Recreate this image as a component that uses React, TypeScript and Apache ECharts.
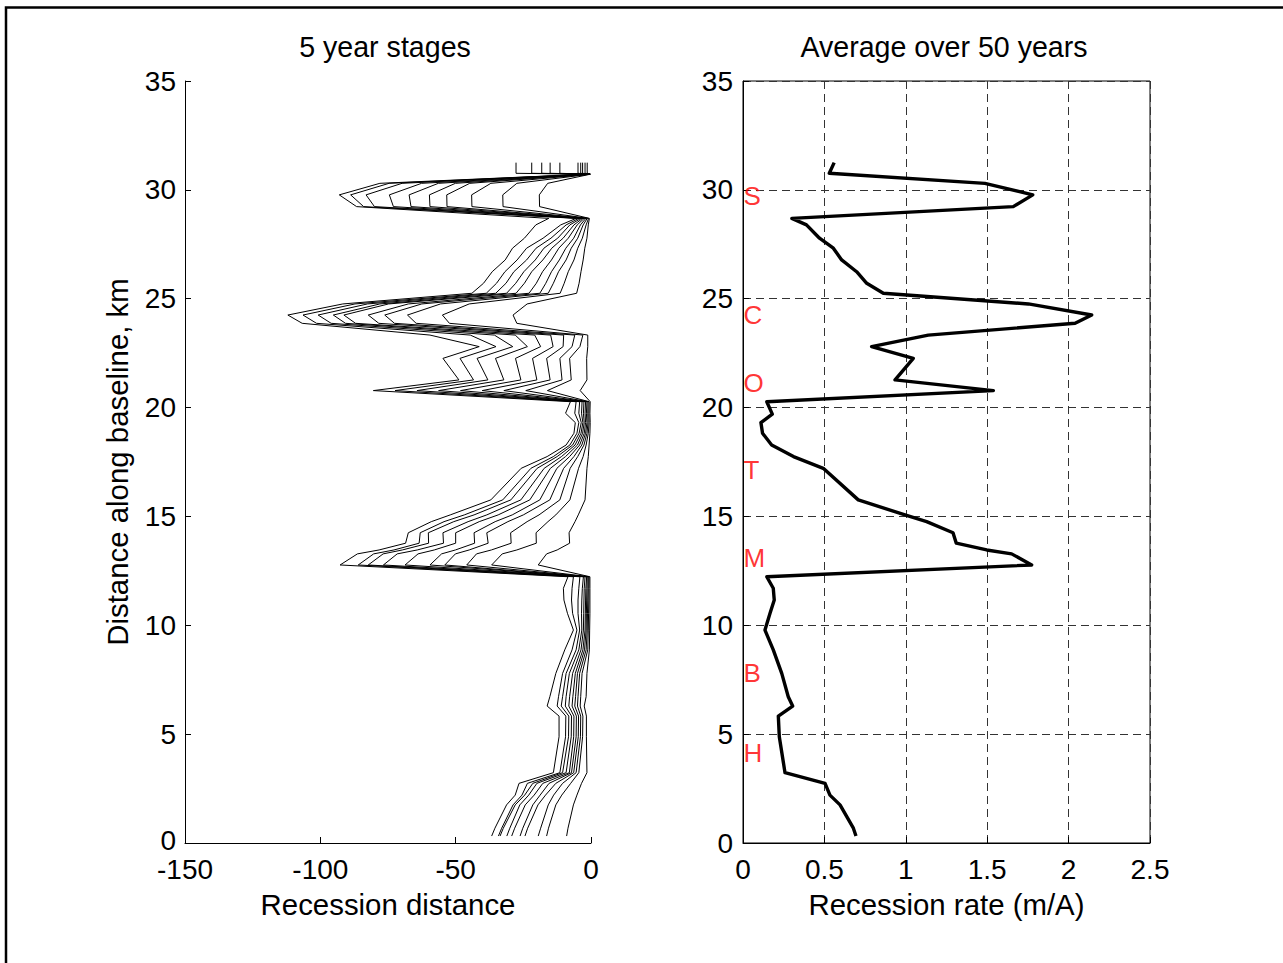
import React, { useEffect, useRef } from "react";
import * as echarts from "echarts";

// ---------- data ----------
// shared along-baseline positions (km) for the 5-year stage lines
const Y_LEFT = [
  31.25, 30.76, 30.72, 30.3, 29.77, 29.23, 28.69, 28.39, 27.78, 27.32,
  26.78, 26.24, 25.71, 25.25, 24.76, 24.25, 23.87, 23.33, 22.8, 22.26,
  21.27, 20.78, 20.27, 19.74, 19.31, 18.82, 18.28, 17.75, 17.21, 15.76,
  15.07, 14.76, 14.25, 13.77, 13.46, 13.28, 12.77, 12.23, 11.7, 11.16,
  10.55, 9.78, 8.87, 7.79, 6.72, 6.29, 5.83, 4.88, 3.23, 2.74,
  2.2, 1.75, 0.68, 0.32,
];

// recession distance (m) after each 5-year stage
const STAGE_50 = [
  -27.7, -27.7, -1.0, -78, -93, -86.6, -15.6, -20.4, -24.6, -29,
  -31.7, -36.5, -39.7, -44, -91.7, -112, -106.7, -59.5, -41.3, -54.7,
  -48.8, -80.4, -7.6, -9.4, -5.8, -6.3, -9.2, -16.2, -25.8, -37,
  -52, -59, -67.5, -68.5, -78.3, -86.3, -92.7, -8.5, -10.2, -10,
  -8.7, -6.5, -9.7, -13, -15.2, -16.2, -11.8, -11.8, -13.9, -26.6,
  -28, -31.2, -35.5, -36.7,
];
const STAGE_45 = [
  -21.9, -21.9, -0.9, -74.6, -88.8, -84, -5.5, -11.2, -17.7, -23.8,
  -27.3, -31.8, -34.9, -38.7, -87.2, -106.4, -101.4, -44.6, -35.1, -48.4,
  -43.4, -72.4, -5.5, -6, -4.5, -5.2, -7.8, -13.9, -22.2, -32.6,
  -46.8, -54.3, -63.1, -63.5, -72.8, -80.3, -86, -6.5, -7, -7.2,
  -6.8, -5.2, -7, -10.5, -12, -12.5, -9.3, -9.4, -11.5, -23.5,
  -25.5, -28.8, -33, -34.2,
];
const STAGE_40 = [
  -18.2, -18.2, -0.8, -69.8, -83.1, -80, -4.5, -9.2, -14.8, -20.3,
  -23.8, -28.5, -31.4, -35.2, -82.6, -100.8, -96, -35.7, -28.9, -42.1,
  -38.1, -64.3, -4.2, -4.5, -3.6, -4.4, -6.8, -12.5, -19.9, -29.6,
  -43.2, -50.7, -60.1, -60, -69.7, -76.8, -82.3, -4.1, -4.5, -4.8,
  -4.8, -4.2, -5.5, -9.2, -10.5, -11, -8.2, -8.3, -10.5, -21.5,
  -24.5, -28, -32.4, -33.6,
];
const STAGE_35 = [
  -15.1, -15.1, -0.7, -62.6, -74.5, -73, -3.7, -7.8, -12.3, -17.4,
  -20.6, -24.8, -27.8, -31.2, -78, -95.2, -90.7, -28, -23.5, -35.3,
  -32.2, -56.3, -3.3, -3.5, -3, -3.7, -5.9, -10.9, -17.3, -25.9,
  -38.5, -45.4, -54.7, -54.5, -64.2, -71.6, -76.7, -2.8, -3.2, -3.4,
  -3.5, -3.4, -4.5, -8, -9.2, -9.5, -7.2, -7.3, -9.2, -20,
  -23, -26.3, -30, -31.1,
];
const STAGE_30 = [
  -11.5, -11.5, -0.6, -56.4, -67.2, -66.5, -3.1, -6.3, -10.3, -14.5,
  -17.8, -21.9, -24.6, -27.7, -74.8, -91.3, -87, -20.8, -18.6, -27.9,
  -25.9, -48.2, -2.6, -2.8, -2.5, -3.1, -5, -9.4, -15, -22.6,
  -34.3, -41.3, -50, -50, -57.9, -63.9, -68.7, -2.2, -2.5, -2.6,
  -2.7, -2.8, -3.7, -6.8, -7.9, -8.2, -6.3, -6.4, -8, -17.8,
  -21, -24.3, -28.2, -29.3,
];
const STAGE_25 = [
  -4.8, -4.8, -0.5, -50.1, -59.7, -59.5, -2.5, -5.1, -8.4, -11.9,
  -14.6, -17.9, -20.2, -22.9, -67.5, -82.3, -78.4, -14.9, -14, -21.6,
  -20, -40.2, -2.0, -2.2, -2, -2.5, -4.2, -7.9, -12.6, -18.9,
  -29.1, -35.4, -43.2, -43, -50.1, -55.2, -59.5, -1.6, -1.9, -2,
  -2.1, -2.2, -3, -5.8, -6.7, -7, -5.4, -5.5, -7.2, -15.5,
  -18.8, -21.5, -25.2, -26.2,
];
const STAGE_20 = [
  -3.8, -3.8, -0.4, -44.8, -53.3, -53.2, -1.9, -3.9, -6.4, -9.3,
  -11.7, -14.6, -16.7, -18.9, -62.5, -76.2, -72.6, -10.1, -10.3, -16.4,
  -15.1, -32.2, -1.5, -1.7, -1.5, -2, -3.4, -6.3, -10.1, -15.2,
  -25, -30.7, -38.5, -38, -45, -50.1, -54, -1.4, -1.5, -1.6,
  -1.7, -1.8, -2.4, -5, -5.7, -6, -4.6, -4.7, -6.4, -13,
  -16.8, -19.6, -23.4, -24.4,
];
const STAGE_15 = [
  -3.1, -3.1, -0.3, -37, -44.1, -44, -1.4, -2.9, -4.9, -7.3,
  -9.2, -12, -13.9, -15.8, -55.6, -67.8, -64.6, -6, -7, -11.5,
  -10.7, -24.1, -1.1, -1.2, -1.1, -1.5, -2.6, -4.9, -7.7, -11.5,
  -19.2, -23.6, -29.7, -29.5, -36.8, -42.3, -45.9, -1, -1.1, -1.2,
  -1.3, -1.4, -1.8, -4.2, -4.8, -5, -3.8, -3.9, -5.5, -10.5,
  -13.8, -15.8, -18.6, -19.5,
];
const STAGE_10 = [
  -2.2, -2.2, -0.3, -27.4, -32.6, -32.5, -0.9, -1.8, -3.2, -4.9,
  -6.3, -8.4, -9.9, -11.4, -45, -54.9, -52.3, -3, -4.1, -7.9,
  -7.3, -16.1, -0.7, -0.8, -0.7, -1, -1.8, -2.9, -4.6, -7.8,
  -13, -15.9, -20.3, -20.2, -27.4, -32.8, -36.7, -0.7, -0.8, -0.8,
  -0.9, -1, -1.2, -3.3, -3.8, -4, -3, -3.1, -4.5, -7.5,
  -10.8, -13, -15.7, -16.4,
];
const STAGE_5 = [
  -1.4, -1.4, -0.2, -16, -19.1, -19, -0.6, -1, -1.5, -2.3,
  -2.9, -3.7, -4.4, -5.3, -23.6, -28.8, -27.4, -1.2, -1.2, -1.6,
  -1.5, -4, -0.3, -0.4, -0.3, -0.4, -0.7, -1, -1.5, -2.2,
  -4.7, -5.9, -8.1, -7.9, -12.5, -16.4, -19.5, -0.4, -0.4, -0.4,
  -0.4, -0.5, -0.6, -1.5, -1.8, -2.5, -1.7, -1.7, -1.5, -3.5,
  -5.2, -6.5, -8.5, -9,
];
const STAGES = [STAGE_5, STAGE_10, STAGE_15, STAGE_20, STAGE_25, STAGE_30, STAGE_35, STAGE_40, STAGE_45, STAGE_50];
const STAGE_NAMES = ["5 yr", "10 yr", "15 yr", "20 yr", "25 yr", "30 yr", "35 yr", "40 yr", "45 yr", "50 yr"];

// average recession rate over 50 years (m/A)
const RATE_Y = [
  31.25, 30.76, 30.3, 29.77, 29.23, 28.69, 28.39, 27.78, 27.32, 26.78,
  26.24, 25.71, 25.25, 24.76, 24.25, 23.87, 23.33, 22.8, 22.26, 21.27,
  20.78, 20.27, 19.7, 19.31, 18.82, 18.28, 17.75, 17.21, 15.76, 15.07,
  14.76, 14.25, 13.77, 13.46, 13.28, 12.77, 12.23, 11.7, 11.16, 10.55,
  9.78, 8.87, 7.79, 6.72, 6.29, 5.83, 4.88, 3.23, 2.74, 2.2,
  1.75, 0.68, 0.32,
];
const RATE_X = [
  0.56, 0.53, 1.486, 1.78, 1.66, 0.3, 0.39, 0.47, 0.555, 0.606,
  0.698, 0.76, 0.862, 1.753, 2.142, 2.04, 1.138, 0.79, 1.046, 0.934,
  1.538, 0.146, 0.18, 0.11, 0.12, 0.176, 0.31, 0.493, 0.708, 0.995,
  1.128, 1.29, 1.31, 1.497, 1.65, 1.773, 0.146, 0.186, 0.192, 0.166,
  0.135, 0.186, 0.238, 0.278, 0.305, 0.217, 0.223, 0.258, 0.504, 0.534,
  0.596, 0.678, 0.694,
];

// site letters on the right panel
const SITE_LETTERS = ["S", "C", "O", "T", "M", "B", "H"];
const SITE_Y = [29.73, 24.24, 21.13, 17.13, 13.11, 7.81, 4.13];

const TITLES = ["5 year stages", "Average over 50 years"];

// ---------- chart ----------
const FONT = "'Liberation Sans', Arial, Helvetica, sans-serif";
const FS_TICK = 28;
const FS_NAME = 29.4;
const FS_TITLE = 28.6;

function buildOption() {
  const axisLine = { show: true, onZero: false, lineStyle: { color: "#000", width: 1 } };
  const axisTick = { show: true, inside: true, length: 6, lineStyle: { color: "#000", width: 1 } };
  const axisLabel = { color: "#000", fontSize: FS_TICK, fontFamily: FONT };
  const nameTextStyle = { color: "#000", fontSize: FS_NAME, fontFamily: FONT };
  const dashed = { show: true, lineStyle: { color: "#333", width: 1, type: [8, 5] } };

  const leftSeries = STAGES.map((arr, k) => ({
    type: "line",
    name: STAGE_NAMES[k],
    xAxisIndex: 0,
    yAxisIndex: 0,
    data: arr.map((v, i) => [v, Y_LEFT[i]]),
    symbol: "none",
    lineStyle: { color: "#000", width: 1 },
    silent: true,
  }));

  const titleText = (text: string, x: number) => ({
    type: "text",
    x,
    y: 47,
    style: {
      text, fill: "#000", font: `${FS_TITLE}px ${FONT}`,
      align: "center", verticalAlign: "middle",
      textAlign: "center", textVerticalAlign: "middle",
    },
  });

  return {
    animation: false,
    backgroundColor: "#fff",
    graphic: [
      {
        type: "rect",
        shape: { x: 6, y: 7.5, width: 1500, height: 1200 },
        style: { fill: "none", stroke: "#000", lineWidth: 2.5 },
        silent: true,
      },
      titleText(TITLES[0], 385),
      titleText(TITLES[1], 944),
    ],
    grid: [
      { left: 185, top: 81, width: 406, height: 762 },
      { left: 743, top: 81, width: 407, height: 762, show: true, borderColor: "#000", borderWidth: 1, backgroundColor: "transparent" },
    ],
    xAxis: [
      {
        gridIndex: 0, type: "value", min: -150, max: 0, interval: 50,
        name: "Recession distance", nameLocation: "middle", nameGap: 47, nameTextStyle,
        axisLine, axisTick, axisLabel: { ...axisLabel, margin: 12 }, splitLine: { show: false },
      },
      {
        gridIndex: 1, type: "value", min: 0, max: 2.5, interval: 0.5,
        name: "Recession rate (m/A)", nameLocation: "middle", nameGap: 47, nameTextStyle,
        axisLine, axisTick, axisLabel: { ...axisLabel, margin: 12 }, splitLine: dashed,
      },
    ],
    yAxis: [
      {
        gridIndex: 0, type: "value", min: 0, max: 35, interval: 5,
        name: "Distance along baseline, km", nameLocation: "middle", nameGap: 53, nameTextStyle,
        axisLine, axisTick,
        axisLabel: {
          ...axisLabel,
          margin: 9,
          formatter: (v: number) => (v === 0 ? "{z|0}" : String(v)),
          rich: { z: { fontSize: FS_TICK, fontFamily: FONT, color: "#000", lineHeight: 24, padding: [0, 0, 5, 0] } },
        },
        splitLine: { show: false },
      },
      {
        gridIndex: 1, type: "value", min: 0, max: 35, interval: 5,
        axisLine, axisTick, axisLabel: { ...axisLabel, margin: 10 }, splitLine: dashed,
      },
    ],
    series: [
      ...leftSeries,
      {
        type: "line",
        name: "Average rate",
        xAxisIndex: 1,
        yAxisIndex: 1,
        data: RATE_X.map((v, i) => [v, RATE_Y[i]]),
        symbol: "none",
        lineStyle: { color: "#000", width: 3.4, join: "round" },
        silent: true,
      },
      {
        type: "scatter",
        xAxisIndex: 1,
        yAxisIndex: 1,
        clip: false,
        symbolSize: 1,
        itemStyle: { color: "rgba(0,0,0,0)" },
        data: SITE_LETTERS.map((l, i) => [0, SITE_Y[i], l]),
        label: {
          show: true,
          position: "right",
          distance: 0,
          formatter: (p: any) => p.value[2],
          color: "#ff0000",
          fontSize: 26,
          fontFamily: FONT,
        },
        silent: true,
        z: 5,
      },
    ],
  };
}

export default function App() {
  const ref = useRef<HTMLDivElement>(null);
  useEffect(() => {
    if (!ref.current) return;
    const chart = echarts.init(ref.current, null, { renderer: "svg" });
    chart.setOption(buildOption() as any);
    return () => chart.dispose();
  }, []);
  return (
    <div
      ref={ref}
      style={{ position: "absolute", left: 0, top: 0, width: 1283, height: 963, background: "#fff" }}
    />
  );
}
